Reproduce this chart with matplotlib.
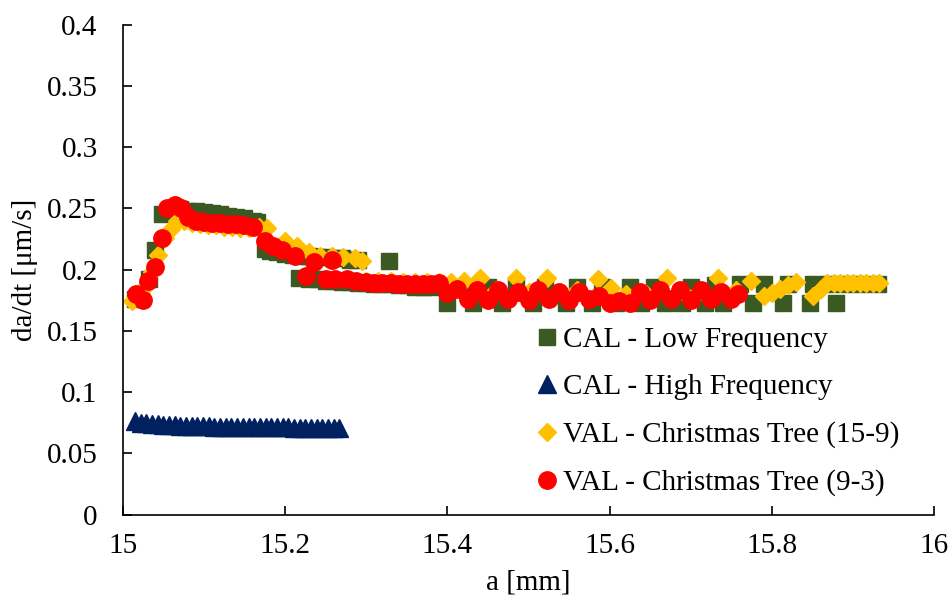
import matplotlib
matplotlib.use("Agg")
import matplotlib.pyplot as plt
from matplotlib.ticker import FuncFormatter, MultipleLocator

plt.rcParams['font.family'] = ['Liberation Serif', 'DejaVu Serif']

# CAL - Low Frequency
low_x = [15.015, 15.022, 15.032, 15.040, 15.049,
         15.06, 15.07, 15.08, 15.09, 15.10, 15.11, 15.12, 15.13, 15.14, 15.15, 15.16, 15.165,
         15.175, 15.181,
         15.19, 15.20, 15.21, 15.22, 15.23, 15.24, 15.25, 15.26, 15.27, 15.28, 15.29,
         15.217, 15.23, 15.24, 15.25, 15.26, 15.27, 15.28, 15.29, 15.30, 15.31, 15.32,
         15.33, 15.34, 15.35, 15.36, 15.37, 15.38,
         15.328,
         15.400, 15.432, 15.467, 15.505, 15.546, 15.578, 15.608, 15.639, 15.668, 15.689,
         15.718, 15.740, 15.777, 15.814, 15.847, 15.879,
         15.415, 15.45, 15.485, 15.52, 15.56, 15.59, 15.625, 15.655, 15.70, 15.73,
         15.76, 15.79, 15.82, 15.85, 15.87, 15.89, 15.91, 15.93]
low_y = [0.176, 0.177, 0.192, 0.216, 0.245,
         0.249, 0.249, 0.248, 0.248, 0.247, 0.246, 0.245, 0.244, 0.243, 0.242, 0.240, 0.239,
         0.217, 0.215,
         0.214, 0.213, 0.212, 0.211, 0.211, 0.210, 0.210, 0.209, 0.209, 0.208, 0.208,
         0.193, 0.192, 0.192, 0.191, 0.191, 0.190, 0.190, 0.189, 0.189, 0.188, 0.188,
         0.188, 0.187, 0.187, 0.186, 0.186, 0.186,
         0.207,
         0.173, 0.173, 0.173, 0.173, 0.173, 0.173, 0.173, 0.173, 0.173, 0.173,
         0.173, 0.173, 0.173, 0.173, 0.173, 0.173,
         0.186, 0.186, 0.186, 0.186, 0.186, 0.186, 0.186, 0.186, 0.186, 0.187,
         0.188, 0.188, 0.188, 0.188, 0.188, 0.188, 0.188, 0.188]

# CAL - High Frequency
high_x = [15.015, 15.022, 15.029, 15.036, 15.043, 15.050, 15.057, 15.064, 15.071, 15.078,
          15.085, 15.092, 15.099, 15.106, 15.113, 15.120, 15.127, 15.134, 15.141, 15.148,
          15.155, 15.162, 15.169, 15.176, 15.183, 15.190, 15.197, 15.204, 15.211, 15.218,
          15.225, 15.232, 15.239, 15.246, 15.253, 15.260, 15.267]
high_y = [0.0765, 0.0748, 0.0744, 0.0740, 0.0737, 0.0734, 0.0731, 0.0728, 0.0726, 0.0724,
          0.0722, 0.0721, 0.0720, 0.0719, 0.0718, 0.0717, 0.0716, 0.0716, 0.0715, 0.0715,
          0.0714, 0.0714, 0.0713, 0.0713, 0.0712, 0.0712, 0.0711, 0.0711, 0.0710, 0.0710,
          0.0709, 0.0709, 0.0708, 0.0708, 0.0707, 0.0707, 0.0706]

# VAL - Christmas Tree (15-9)
ct159_x = [15.012, 15.020, 15.028, 15.036, 15.043, 15.052, 15.060, 15.067, 15.075, 15.085,
           15.095, 15.105, 15.115, 15.125, 15.135, 15.145, 15.155, 15.168, 15.178, 15.200,
           15.215, 15.230, 15.243, 15.258, 15.272, 15.286, 15.295,
           15.30, 15.315, 15.33, 15.345, 15.36, 15.375, 15.39, 15.405, 15.42, 15.44,
           15.46, 15.485, 15.50, 15.523, 15.54, 15.56, 15.585, 15.601, 15.62, 15.645,
           15.67, 15.69, 15.71, 15.733, 15.755, 15.774,
           15.79, 15.80, 15.81, 15.82, 15.83, 15.85, 15.86, 15.868, 15.876, 15.884,
           15.892, 15.900, 15.908, 15.916, 15.924, 15.932]
ct159_y = [0.174, 0.180, 0.186, 0.198, 0.212, 0.226, 0.233, 0.240, 0.240, 0.238,
           0.237, 0.236, 0.236, 0.235, 0.235, 0.234, 0.234, 0.235, 0.234, 0.223,
           0.219, 0.214, 0.211, 0.211, 0.210, 0.209, 0.207,
           0.191, 0.191, 0.191, 0.190, 0.190, 0.190, 0.190, 0.190, 0.191, 0.193,
           0.183, 0.193, 0.182, 0.193, 0.182, 0.183, 0.192, 0.185, 0.180, 0.180,
           0.193, 0.182, 0.182, 0.193, 0.183, 0.191,
           0.178, 0.181, 0.184, 0.187, 0.190, 0.178, 0.184, 0.189, 0.189, 0.189,
           0.189, 0.189, 0.189, 0.189, 0.189, 0.189]

# VAL - Christmas Tree (9-3)
ct93_x = [15.016, 15.025, 15.031, 15.040, 15.048, 15.055, 15.064, 15.072, 15.080, 15.090,
          15.100, 15.110, 15.120, 15.130, 15.140, 15.150, 15.160, 15.175, 15.185, 15.196,
          15.212, 15.226, 15.236, 15.250, 15.258, 15.262, 15.276, 15.287,
          15.30, 15.31, 15.32, 15.33, 15.34, 15.35, 15.36, 15.37, 15.38, 15.39,
          15.400, 15.412, 15.425, 15.437, 15.450, 15.462, 15.475, 15.487, 15.500, 15.512,
          15.525, 15.537, 15.550, 15.562, 15.575, 15.587, 15.600, 15.612, 15.625, 15.637,
          15.650, 15.662, 15.675, 15.687, 15.700, 15.712, 15.725, 15.737, 15.750, 15.758]
ct93_y = [0.180, 0.175, 0.191, 0.202, 0.226, 0.250, 0.253, 0.250, 0.243, 0.240,
          0.239, 0.238, 0.238, 0.237, 0.237, 0.236, 0.235, 0.223, 0.219, 0.216,
          0.211, 0.195, 0.206, 0.192, 0.208, 0.192, 0.192, 0.191,
          0.190, 0.189, 0.189, 0.189, 0.188, 0.188, 0.188, 0.188, 0.188, 0.189,
          0.181, 0.184, 0.176, 0.183, 0.175, 0.183, 0.176, 0.182, 0.175, 0.183,
          0.176, 0.182, 0.175, 0.182, 0.176, 0.178, 0.173, 0.174, 0.173, 0.182,
          0.175, 0.183, 0.176, 0.183, 0.175, 0.183, 0.176, 0.182, 0.176, 0.180]

labels = ["CAL - Low Frequency", "CAL - High Frequency",
          "VAL - Christmas Tree (15-9)", "VAL - Christmas Tree (9-3)"]

fs = 21

fig = plt.figure(figsize=(9.52, 6.01), dpi=100)
ax = fig.add_axes([0.1289, 0.1439, 0.8526, 0.8153])

ax.plot(low_x, low_y, ls='none', marker='s', ms=12, color='#3B5A23', mec='#3B5A23', label=labels[0])
ax.plot(high_x, high_y, ls='none', marker='^', ms=12.5, color='#002060', mec='#002060', label=labels[1])
ax.plot(ct159_x, ct159_y, ls='none', marker='D', ms=9, color='#FFC000', mec='#FFC000', label=labels[2])
ax.plot(ct93_x, ct93_y, ls='none', marker='o', ms=12.5, color='#FF0000', mec='#FF0000', label=labels[3])

ax.set_xlim(15, 16)
ax.set_ylim(0, 0.4)
ax.xaxis.set_major_locator(MultipleLocator(0.2))
ax.yaxis.set_major_locator(MultipleLocator(0.05))
fmt = FuncFormatter(lambda v, p: f"{round(v, 4):g}")
ax.xaxis.set_major_formatter(fmt)
ax.yaxis.set_major_formatter(fmt)

for s in ['top', 'right']:
    ax.spines[s].set_visible(False)
for s in ['left', 'bottom']:
    ax.spines[s].set_linewidth(1.2)
ax.tick_params(axis='both', direction='in', length=6.5, width=1.2, labelsize=fs)
ax.tick_params(axis='y', pad=18)
ax.tick_params(axis='x', pad=13)

ax.set_xlabel("a [mm]", fontsize=fs, labelpad=8)
ax.set_ylabel("da/dt [μm/s]", fontsize=fs, labelpad=6)

ax.legend(loc='upper left', bbox_to_anchor=(0.5115, 0.384), frameon=False, fontsize=fs,
          borderpad=0, borderaxespad=0, handlelength=0.6, handletextpad=0.25,
          labelspacing=0.72, numpoints=1)

fig.savefig("out.png", dpi=100)
